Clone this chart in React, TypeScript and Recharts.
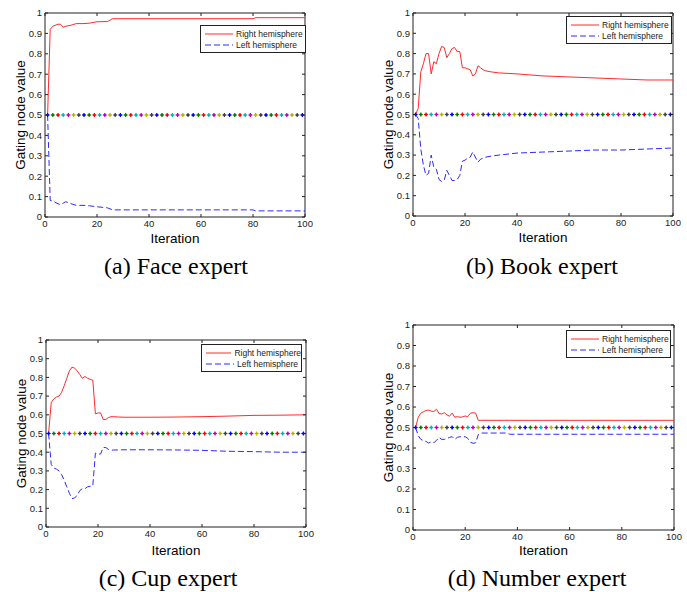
import { Legend, Line, LineChart, ReferenceArea, XAxis, YAxis } from "recharts";

const faceIter = [1, 2, 3, 5, 6, 7, 8, 10, 12, 15, 17, 20, 24, 26, 80, 81, 100];
const faceRight = [0.5, 0.92, 0.935, 0.945, 0.945, 0.93, 0.935, 0.94, 0.948, 0.948, 0.95, 0.957, 0.958, 0.972, 0.972, 0.977, 0.977];
const faceLeft = [0.5, 0.081, 0.078, 0.065, 0.06, 0.068, 0.075, 0.065, 0.057, 0.057, 0.055, 0.05, 0.045, 0.035, 0.035, 0.03, 0.03];

const bookIter = [1, 2, 3, 4, 5, 6, 7, 8, 9, 10, 11, 12, 13, 14, 15, 16, 17, 18, 19, 20, 21, 22, 23, 24, 25, 26, 27, 28, 30, 33, 40, 50, 60, 70, 80, 90, 100];
const bookRight = [0.5, 0.53, 0.71, 0.75, 0.8, 0.8, 0.7, 0.76, 0.75, 0.8, 0.835, 0.83, 0.78, 0.8, 0.825, 0.83, 0.81, 0.81, 0.73, 0.73, 0.725, 0.72, 0.69, 0.7, 0.74, 0.73, 0.72, 0.715, 0.71, 0.705, 0.7, 0.69, 0.685, 0.68, 0.675, 0.67, 0.67];
const bookLeft = [0.5, 0.48, 0.33, 0.25, 0.2, 0.21, 0.3, 0.24, 0.23, 0.18, 0.17, 0.175, 0.225, 0.2, 0.175, 0.175, 0.18, 0.2, 0.27, 0.275, 0.285, 0.29, 0.315, 0.29, 0.265, 0.28, 0.285, 0.29, 0.295, 0.3, 0.31, 0.315, 0.32, 0.325, 0.325, 0.33, 0.335];

const cupIter = [1, 2, 3, 4, 5, 6, 7, 8, 9, 10, 11, 12, 13, 14, 15, 16, 17, 18, 19, 20, 21, 22, 23, 24, 25, 26, 28, 30, 40, 50, 60, 70, 80, 90, 100];
const cupRight = [0.5, 0.665, 0.685, 0.695, 0.7, 0.72, 0.755, 0.795, 0.835, 0.855, 0.85, 0.835, 0.815, 0.795, 0.805, 0.795, 0.79, 0.785, 0.605, 0.61, 0.61, 0.575, 0.575, 0.585, 0.59, 0.59, 0.588, 0.587, 0.587, 0.588, 0.59, 0.593, 0.597, 0.598, 0.6];
const cupLeft = [0.5, 0.335, 0.315, 0.31, 0.3, 0.28, 0.25, 0.215, 0.18, 0.152, 0.155, 0.17, 0.195, 0.205, 0.205, 0.215, 0.218, 0.22, 0.395, 0.39, 0.39, 0.425, 0.425, 0.415, 0.41, 0.412, 0.412, 0.413, 0.413, 0.412, 0.41, 0.405, 0.403, 0.4, 0.4];

const numberIter = [1, 2, 3, 4, 5, 6, 7, 8, 9, 10, 11, 12, 13, 14, 15, 16, 17, 18, 19, 20, 21, 22, 23, 24, 25, 26, 36, 37, 100];
const numberRight = [0.5, 0.55, 0.57, 0.577, 0.583, 0.585, 0.58, 0.578, 0.589, 0.568, 0.566, 0.572, 0.562, 0.555, 0.57, 0.55, 0.553, 0.55, 0.552, 0.556, 0.553, 0.57, 0.572, 0.57, 0.535, 0.535, 0.535, 0.535, 0.535];
const numberLeft = [0.5, 0.46, 0.442, 0.436, 0.432, 0.424, 0.431, 0.426, 0.437, 0.452, 0.442, 0.442, 0.446, 0.452, 0.455, 0.442, 0.452, 0.455, 0.455, 0.455, 0.447, 0.428, 0.423, 0.425, 0.465, 0.473, 0.473, 0.467, 0.467];

// dotted chance line at 0.5
const chanceIter = [1, 3, 5, 7, 9, 11, 13, 15, 17, 19, 21, 23, 25, 27, 29, 31, 33, 35, 37, 39, 41, 43, 45, 47, 49, 51, 53, 55, 57, 59, 61, 63, 65, 67, 69, 71, 73, 75, 77, 79, 81, 83, 85, 87, 89, 91, 93, 95, 97, 99];
const chanceLevel = 0.5;

const xTicks = [0, 20, 40, 60, 80, 100];
const yTicks = [0, 0.1, 0.2, 0.3, 0.4, 0.5, 0.6, 0.7, 0.8, 0.9, 1];
const seriesNames = ["Right hemisphere", "Left hemisphere"];
const captions = ["(a) Face expert", "(b) Book expert", "(c) Cup expert", "(d) Number expert"];

const SANS = "'Liberation Sans', Arial, Helvetica, sans-serif";
const SERIF = "'Liberation Serif', 'Times New Roman', serif";
const RED = "#ff2b2b";
const BLUE = "#2b2bff";
const DASH = "6 3";
const AXIS = "#222";
const MARKER_COLORS = ["#0000ff", "#008000", "#ff0000", "#00b5b5", "#bf00bf", "#b5b500", "#404040"];

const YW = 45;
const XH = 40;
const MT = 10;
const MR = 10;
const TICK = 3;

const PANELS = [
  { caption: captions[0], iter: faceIter, right: faceRight, left: faceLeft, x: 45, y: 13, w: 260, h: 204, lx: 155, ly: 12, lw: 106, capX: 176, capY: 266, xlOff: 14 },
  { caption: captions[1], iter: bookIter, right: bookRight, left: bookLeft, x: 413, y: 13, w: 260, h: 203, lx: 153, ly: 3, lw: 106, capX: 542, capY: 266, xlOff: 14 },
  { caption: captions[2], iter: cupIter, right: cupRight, left: cupLeft, x: 46, y: 340, w: 260, h: 187, lx: 155, ly: 4, lw: 101, capX: 168, capY: 578, xlOff: 12 },
  { caption: captions[3], iter: numberIter, right: numberRight, left: numberLeft, x: 413, y: 325, w: 261, h: 205, lx: 153, ly: 5, lw: 105, capX: 537, capY: 578, xlOff: 15 },
];

const toPoints = (iter: number[], vals: number[]) => iter.map((i, k) => ({ i, v: vals[k] }));
const chancePoints = chanceIter.map((i) => ({ i, v: chanceLevel }));

function fmtY(v: number) {
  return String(Number(v.toFixed(1)));
}

function XTick(props: any) {
  const { x, y, payload, h } = props;
  const base = y - TICK;
  return (
    <g>
      <line x1={x} x2={x} y1={base} y2={base - 3} stroke={AXIS} />
      <line x1={x} x2={x} y1={base - h} y2={base - h + 3} stroke={AXIS} />
      <text x={x} y={base + 7} dy="0.35em" textAnchor="middle" fontSize={9.5} fontFamily={SANS} fill={AXIS}>
        {payload.value}
      </text>
    </g>
  );
}

function YTick(props: any) {
  const { x, y, payload, w } = props;
  const base = x + TICK;
  return (
    <g>
      <line x1={base} x2={base + 3} y1={y} y2={y} stroke={AXIS} />
      <line x1={base + w} x2={base + w - 3} y1={y} y2={y} stroke={AXIS} />
      <text x={base - 3} y={y} dy="0.35em" textAnchor="end" fontSize={9.5} fontFamily={SANS} fill={AXIS}>
        {fmtY(payload.value)}
      </text>
    </g>
  );
}

function ChanceDot(props: any) {
  const { cx, cy, index } = props;
  const c = MARKER_COLORS[index % MARKER_COLORS.length];
  return (
    <g key={index}>
      <line x1={cx - 2} x2={cx + 2} y1={cy} y2={cy} stroke={c} strokeWidth={1.2} />
      <line x1={cx} x2={cx} y1={cy - 2} y2={cy + 2} stroke={c} strokeWidth={1.2} />
      <circle cx={cx} cy={cy} r={1.2} fill={c} />
    </g>
  );
}

function LegendBox({ width }: { width: number }) {
  return (
    <div
      style={{
        width,
        height: 28,
        boxSizing: "border-box",
        border: `1px solid ${AXIS}`,
        background: "#fff",
        padding: "2px 0 0 4px",
        fontFamily: SANS,
        fontSize: 8.5,
        color: "#222",
      }}
    >
      {seriesNames.map((name, k) => (
        <div key={name} style={{ display: "flex", alignItems: "center", height: 11.5 }}>
          <svg width={28} height={4} style={{ display: "block" }}>
            <line x1={0} x2={28} y1={2} y2={2} stroke={k === 0 ? RED : BLUE} strokeDasharray={k === 0 ? undefined : DASH} />
          </svg>
          <span style={{ marginLeft: 3, whiteSpace: "nowrap" }}>{name}</span>
        </div>
      ))}
    </div>
  );
}

function Panel({ p }: { p: (typeof PANELS)[number] }) {
  return (
    <>
      <div style={{ position: "absolute", left: p.x - YW, top: p.y - MT }}>
        <LineChart width={YW + p.w + MR} height={MT + p.h + XH} margin={{ top: MT, right: MR, left: 0, bottom: 0 }}>
          <XAxis
            type="number"
            dataKey="i"
            domain={[0, 100]}
            ticks={xTicks}
            interval={0}
            height={XH}
            axisLine={false}
            tickLine={false}
            tickSize={0}
            tickMargin={TICK}
            tick={(t: any) => <XTick {...t} h={p.h} />}
            label={{ value: "Iteration", position: "insideBottom", offset: p.xlOff, style: { fontSize: 13.5, fontFamily: SANS, fill: "#000" } }}
          />
          <YAxis
            type="number"
            domain={[0, 1]}
            ticks={yTicks}
            interval={0}
            width={YW}
            axisLine={false}
            tickLine={false}
            tickSize={0}
            tickMargin={TICK}
            tick={(t: any) => <YTick {...t} w={p.w} />}
            label={{ value: "Gating node value", angle: -90, position: "insideLeft", offset: 20, style: { textAnchor: "middle", fontSize: 13.5, fontFamily: SANS, fill: "#000" } }}
          />
          <ReferenceArea x1={0} x2={100} y1={0} y2={1} fill="none" stroke={AXIS} strokeWidth={1} />
          <Line data={chancePoints} dataKey="v" stroke="none" dot={ChanceDot} legendType="none" isAnimationActive={false} />
          <Line data={toPoints(p.iter, p.right)} dataKey="v" name={seriesNames[0]} type="linear" stroke={RED} strokeWidth={1} dot={false} isAnimationActive={false} />
          <Line data={toPoints(p.iter, p.left)} dataKey="v" name={seriesNames[1]} type="linear" stroke={BLUE} strokeWidth={1} strokeDasharray={DASH} dot={false} isAnimationActive={false} />
          <Legend
            layout="horizontal"
            align="center"
            verticalAlign="middle"
            content={() => <LegendBox width={p.lw} />}
            wrapperStyle={{ left: YW + p.lx, top: MT + p.ly, width: p.lw, height: 28 }}
          />
        </LineChart>
      </div>
      <div
        style={{
          position: "absolute",
          left: p.capX - 150,
          width: 300,
          top: p.capY - 14,
          lineHeight: "28px",
          textAlign: "center",
          fontFamily: SERIF,
          fontSize: 24,
          color: "#000",
        }}
      >
        {p.caption}
      </div>
    </>
  );
}

export default function App() {
  return (
    <div style={{ position: "absolute", left: 0, top: 0, width: 687, height: 592, background: "#fff" }}>
      {PANELS.map((p) => (
        <Panel key={p.caption} p={p} />
      ))}
    </div>
  );
}
